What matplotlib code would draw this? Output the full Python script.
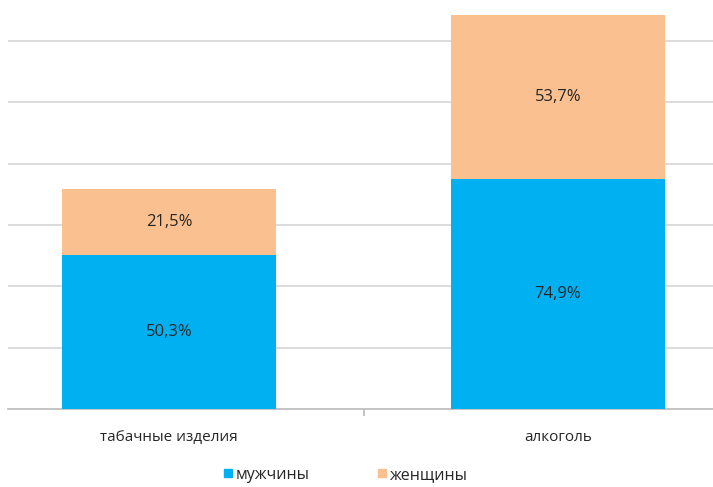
import matplotlib
matplotlib.use("Agg")
import matplotlib.pyplot as plt
from matplotlib.lines import Line2D

categories = ["табачные изделия", "алкоголь"]
men = [50.3, 74.9]
women = [21.5, 53.7]
series_names = ["мужчины", "женщины"]
men_labels = ["50,3%", "74,9%"]
women_labels = ["21,5%", "53,7%"]

blue = "#00B0F0"
orange = "#FAC090"

plt.rcParams['font.family'] = ['Open Sans', 'DejaVu Sans']

fig = plt.figure(figsize=(7.13, 4.87), dpi=100)
ax = fig.add_axes([8/713, 1 - 409/487, 1 - 8/713, 409/487])

x = list(range(len(categories)))
w = 0.55
ax.bar(x, men, width=w, color=blue, zorder=3)
ax.bar(x, women, width=w, bottom=men, color=orange, zorder=3)

for i in x:
    ax.text(i, men[i] / 2, men_labels[i], ha='center', va='center', fontsize=12, color='#262626', zorder=4)
    ax.text(i, men[i] + women[i] / 2, women_labels[i], ha='center', va='center', fontsize=12, color='#262626', zorder=4)

ax.set_xlim((8 - 169) / 389, (713 - 169) / 389)
ax.set_ylim(0, 133.4)
ax.set_yticks([20, 40, 60, 80, 100, 120])
ax.yaxis.grid(True, color='#d9d9d9', linewidth=1.3, zorder=0)
ax.tick_params(axis='y', left=False, labelleft=False)
for s in ['top', 'right', 'left']:
    ax.spines[s].set_visible(False)
ax.spines['bottom'].set_color('#bfbfbf')
ax.spines['bottom'].set_linewidth(1.3)
ax.set_xticks([0.5])
ax.set_xticklabels([''])
ax.tick_params(axis='x', length=5, color='#bfbfbf', width=1.3)

for i, c in enumerate(categories):
    ax.text(i, -9.3, c, ha='center', va='center', fontsize=11, color='#262626')

handles = [Line2D([], [], marker='s', linestyle='none', markersize=6, markerfacecolor=blue, markeredgecolor=blue),
           Line2D([], [], marker='s', linestyle='none', markersize=6, markerfacecolor=orange, markeredgecolor=orange)]
fig.legend(handles, series_names, loc='center', bbox_to_anchor=(0.482, 1 - 475/487), ncol=2,
           frameon=False, fontsize=11.5, handletextpad=0.0, columnspacing=4.0, handlelength=1.0,
           labelcolor='#262626')

fig.savefig("out.png", dpi=100)
